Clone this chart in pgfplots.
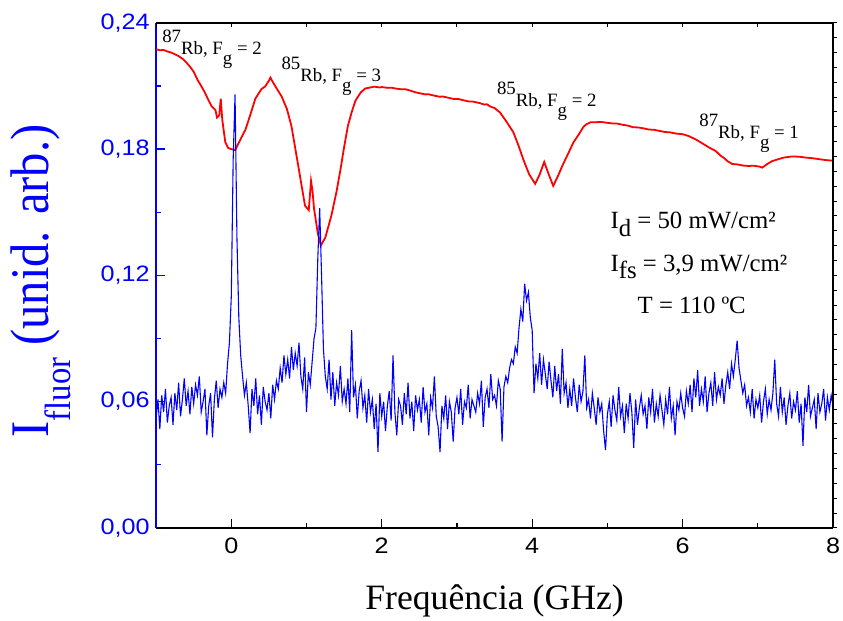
\documentclass[border=0pt]{standalone}
\usepackage{pgfplots}
\pgfplotsset{compat=1.18}
\usepackage{pgfplotstable}
\usepackage{graphicx}
\usepackage{fontspec}
\setmainfont{Liberation Serif}
\newfontfamily\arial{Liberation Sans}
\usetikzlibrary{calc}

\pgfplotstableread[row sep=\\]{
y\\
0.052\\ 0.061\\ 0.047\\ 0.063\\ 0.055\\ 0.066\\ 0.050\\ 0.058\\ 0.062\\ 0.049\\
0.064\\ 0.056\\ 0.069\\ 0.053\\ 0.061\\ 0.071\\ 0.058\\ 0.065\\ 0.054\\ 0.067\\
0.059\\ 0.068\\ 0.063\\ 0.072\\ 0.055\\ 0.060\\ 0.066\\ 0.044\\ 0.058\\ 0.064\\
0.043\\ 0.061\\ 0.070\\ 0.057\\ 0.066\\ 0.062\\ 0.069\\ 0.064\\ 0.078\\ 0.088\\
0.110\\ 0.175\\ 0.206\\ 0.138\\ 0.100\\ 0.082\\ 0.072\\ 0.063\\ 0.069\\ 0.058\\
0.045\\ 0.066\\ 0.058\\ 0.071\\ 0.054\\ 0.063\\ 0.049\\ 0.067\\ 0.060\\ 0.056\\
0.064\\ 0.052\\ 0.068\\ 0.061\\ 0.070\\ 0.066\\ 0.076\\ 0.069\\ 0.082\\ 0.073\\
0.080\\ 0.071\\ 0.086\\ 0.075\\ 0.083\\ 0.077\\ 0.088\\ 0.072\\ 0.066\\ 0.081\\
0.055\\ 0.074\\ 0.068\\ 0.079\\ 0.090\\ 0.095\\ 0.128\\ 0.152\\ 0.120\\ 0.085\\
0.072\\ 0.066\\ 0.080\\ 0.061\\ 0.074\\ 0.058\\ 0.069\\ 0.063\\ 0.077\\ 0.060\\
0.066\\ 0.059\\ 0.071\\ 0.055\\ 0.094\\ 0.062\\ 0.068\\ 0.052\\ 0.065\\ 0.070\\
0.057\\ 0.063\\ 0.050\\ 0.066\\ 0.055\\ 0.061\\ 0.047\\ 0.059\\ 0.036\\ 0.064\\
0.053\\ 0.060\\ 0.046\\ 0.058\\ 0.065\\ 0.051\\ 0.082\\ 0.055\\ 0.044\\ 0.061\\
0.058\\ 0.049\\ 0.064\\ 0.054\\ 0.069\\ 0.052\\ 0.060\\ 0.046\\ 0.063\\ 0.056\\
0.061\\ 0.050\\ 0.067\\ 0.055\\ 0.059\\ 0.044\\ 0.062\\ 0.057\\ 0.072\\ 0.053\\
0.048\\ 0.036\\ 0.058\\ 0.052\\ 0.063\\ 0.047\\ 0.060\\ 0.055\\ 0.041\\ 0.057\\
0.062\\ 0.054\\ 0.066\\ 0.049\\ 0.060\\ 0.057\\ 0.068\\ 0.052\\ 0.061\\ 0.058\\
0.055\\ 0.064\\ 0.059\\ 0.070\\ 0.048\\ 0.062\\ 0.066\\ 0.057\\ 0.073\\ 0.061\\
0.063\\ 0.058\\ 0.070\\ 0.066\\ 0.041\\ 0.067\\ 0.072\\ 0.069\\ 0.076\\ 0.080\\
0.078\\ 0.086\\ 0.083\\ 0.095\\ 0.104\\ 0.098\\ 0.116\\ 0.108\\ 0.112\\ 0.100\\
0.094\\ 0.064\\ 0.078\\ 0.071\\ 0.083\\ 0.068\\ 0.080\\ 0.073\\ 0.066\\ 0.079\\
0.070\\ 0.062\\ 0.077\\ 0.065\\ 0.073\\ 0.059\\ 0.085\\ 0.064\\ 0.069\\ 0.057\\
0.066\\ 0.058\\ 0.071\\ 0.062\\ 0.055\\ 0.068\\ 0.060\\ 0.065\\ 0.082\\ 0.057\\
0.061\\ 0.052\\ 0.064\\ 0.057\\ 0.049\\ 0.062\\ 0.055\\ 0.059\\ 0.046\\ 0.037\\
0.054\\ 0.060\\ 0.048\\ 0.063\\ 0.056\\ 0.051\\ 0.067\\ 0.053\\ 0.058\\ 0.045\\
0.059\\ 0.052\\ 0.064\\ 0.055\\ 0.038\\ 0.061\\ 0.049\\ 0.057\\ 0.063\\ 0.054\\
0.058\\ 0.047\\ 0.062\\ 0.055\\ 0.066\\ 0.050\\ 0.059\\ 0.053\\ 0.063\\ 0.056\\
0.049\\ 0.061\\ 0.054\\ 0.067\\ 0.052\\ 0.058\\ 0.044\\ 0.060\\ 0.056\\ 0.064\\
0.057\\ 0.053\\ 0.065\\ 0.059\\ 0.068\\ 0.055\\ 0.071\\ 0.062\\ 0.075\\ 0.058\\
0.066\\ 0.060\\ 0.072\\ 0.055\\ 0.064\\ 0.069\\ 0.058\\ 0.074\\ 0.061\\ 0.067\\
0.063\\ 0.071\\ 0.059\\ 0.068\\ 0.074\\ 0.066\\ 0.078\\ 0.072\\ 0.080\\ 0.089\\
0.076\\ 0.070\\ 0.064\\ 0.068\\ 0.058\\ 0.062\\ 0.055\\ 0.066\\ 0.052\\ 0.061\\
0.057\\ 0.063\\ 0.050\\ 0.060\\ 0.066\\ 0.054\\ 0.061\\ 0.056\\ 0.064\\ 0.080\\
0.059\\ 0.053\\ 0.067\\ 0.055\\ 0.062\\ 0.049\\ 0.058\\ 0.064\\ 0.052\\ 0.060\\
0.056\\ 0.065\\ 0.050\\ 0.059\\ 0.039\\ 0.062\\ 0.055\\ 0.068\\ 0.053\\ 0.057\\
0.061\\ 0.047\\ 0.064\\ 0.055\\ 0.059\\ 0.066\\ 0.051\\ 0.062\\ 0.056\\ 0.063\\ 0.058\\
}\bluedata

\begin{document}
\begin{tikzpicture}
\begin{axis}[
  scale only axis, width=681bp, height=508bp,
  xmin=-1, xmax=8, ymin=0, ymax=0.24,
  axis x line*=bottom, axis y line*=left,
  axis line style={line width=1.6bp},
  x axis line style={black}, y axis line style={blue},
  tick align=inside,
  major tick length=9bp, minor tick length=5bp,
  every tick/.style={line width=1.3bp},
  xtick style={black}, ytick style={blue},
  xtick={0,2,4,6,8}, minor xtick={-1,1,3,5,7},
  ytick={0,0.06,0.12,0.18,0.24}, minor ytick={0.03,0.09,0.15,0.21},
  scaled y ticks=false,
  /pgf/number format/assume math mode=true,
  tick label style={font=\arial\fontsize{22.5}{26}\selectfont},
  xticklabel={\scalebox{1.13}[1]{\pgfmathprintnumber{\tick}}},
  yticklabel={\scalebox{1.13}[1]{\pgfmathprintnumber[fixed, fixed zerofill, precision=2, use comma]{\tick}}},
  yticklabel style={blue, xshift=-3bp},
  xticklabel style={yshift=-7bp},
  xlabel={Frequência (GHz)},
  xlabel style={font=\fontsize{36}{40}\selectfont, at={(axis description cs:0.5,-0.1614)}, anchor=base},
  ylabel={\scalebox{1}[1.12]{I\raisebox{-0.4em}{\fontsize{33}{38}\selectfont fluor} (unid. arb.)}},
  ylabel style={blue, font=\fontsize{49}{56}\selectfont, at={(axis description cs:-0.1586,0.489)}, anchor=base},
  clip=true,
]
\addplot[red, line width=1.8bp] coordinates {
(-1.00,0.2275) (-0.95,0.2270) (-0.90,0.2271) (-0.85,0.2264) (-0.80,0.2259)
(-0.75,0.2251) (-0.70,0.2242) (-0.65,0.2230) (-0.60,0.2213) (-0.55,0.2192)
(-0.50,0.2168) (-0.45,0.2130) (-0.40,0.2100) (-0.35,0.2068) (-0.30,0.2030)
(-0.26,0.2003) (-0.21,0.1985) (-0.19,0.1950) (-0.16,0.1960) (-0.14,0.2040)
(-0.12,0.1940) (-0.08,0.1833) (-0.04,0.1805) (0.00,0.1800) (0.05,0.1795)
(0.10,0.1830) (0.19,0.1894) (0.25,0.1960) (0.32,0.2040) (0.40,0.2085)
(0.45,0.2098) (0.50,0.2125) (0.52,0.2140) (0.55,0.2120) (0.60,0.2090)
(0.67,0.2050) (0.74,0.1990) (0.80,0.1909) (0.90,0.1700) (0.98,0.1531)
(1.03,0.1510) (1.06,0.1649) (1.08,0.1600) (1.10,0.1517) (1.15,0.1400)
(1.19,0.1342) (1.25,0.1380) (1.33,0.1483) (1.40,0.1600) (1.45,0.1700)
(1.50,0.1810) (1.55,0.1910) (1.60,0.1975) (1.65,0.2030) (1.72,0.2069)
(1.78,0.2088) (1.85,0.2093) (1.90,0.2097) (1.97,0.2093) (2.00,0.2095)
(2.08,0.2091) (2.13,0.2092) (2.20,0.2087) (2.27,0.2084) (2.31,0.2085)
(2.38,0.2078) (2.45,0.2070) (2.50,0.2066) (2.58,0.2060) (2.62,0.2061)
(2.70,0.2054) (2.77,0.2049) (2.81,0.2050) (2.90,0.2043) (2.96,0.2038)
(3.02,0.2038) (3.10,0.2031) (3.16,0.2026) (3.21,0.2026) (3.30,0.2019)
(3.36,0.2012) (3.40,0.2013) (3.44,0.2003) (3.50,0.1995)
(3.57,0.1975) (3.65,0.1935) (3.75,0.1880) (3.82,0.1815) (3.88,0.1753)
(3.96,0.1680) (4.04,0.1635) (4.10,0.1680) (4.16,0.1739) (4.22,0.1680)
(4.28,0.1625) (4.34,0.1670) (4.40,0.1720) (4.48,0.1780) (4.55,0.1833)
(4.62,0.1870) (4.68,0.1905) (4.72,0.1918) (4.78,0.1928) (4.85,0.1928)
(4.92,0.1929) (5.00,0.1925) (5.07,0.1922) (5.12,0.1922) (5.20,0.1916)
(5.28,0.1911) (5.34,0.1904) (5.41,0.1903) (5.49,0.1898) (5.55,0.1893)
(5.62,0.1892) (5.70,0.1886) (5.77,0.1881) (5.83,0.1880) (5.91,0.1874)
(6.00,0.1871) (6.08,0.1862) (6.17,0.1847) (6.25,0.1830) (6.35,0.1808)
(6.44,0.1791) (6.50,0.1770) (6.55,0.1758) (6.60,0.1742) (6.66,0.1729)
(6.72,0.1728) (6.80,0.1722) (6.87,0.1720) (6.95,0.1721) (7.02,0.1717)
(7.06,0.1712) (7.12,0.1728) (7.19,0.1743) (7.27,0.1752) (7.35,0.1760)
(7.45,0.1765) (7.55,0.1764) (7.63,0.1760) (7.72,0.1757) (7.80,0.1753)
(7.90,0.1748) (8.00,0.1745)
};
\addplot[blue, line width=1.1bp] table[x expr=\coordindex*0.025-1, y=y] {\bluedata};

\begin{scope}[every node/.style={anchor=base west, inner sep=0pt, font=\fontsize{19}{22}\selectfont}]
\node at (axis cs:-0.92,0.2249) {\raisebox{0.62em}{87}Rb, F\raisebox{-0.55em}{g} = 2};
\node at (axis cs:0.665,0.2123) {\raisebox{0.62em}{85}Rb, F\raisebox{-0.55em}{g} = 3};
\node at (axis cs:3.53,0.2003) {\raisebox{0.62em}{85}Rb, F\raisebox{-0.55em}{g} = 2};
\node at (axis cs:6.22,0.1852) {\raisebox{0.62em}{87}Rb, F\raisebox{-0.55em}{g} = 1};
\end{scope}
\begin{scope}[every node/.style={anchor=base west, inner sep=0pt, font=\fontsize{25}{28}\selectfont}]
\node at (axis cs:5.04,0.1422) {I\raisebox{-0.3em}{d} = 50 mW/cm²};
\node at (axis cs:5.04,0.1219) {I\raisebox{-0.3em}{fs} = 3,9 mW/cm²};
\node at (axis cs:5.40,0.1020) {T = 110 ºC};
\end{scope}
\end{axis}

\begin{axis}[
  scale only axis, width=681bp, height=508bp,
  xmin=-1, xmax=8, ymin=0, ymax=34,
  axis x line*=top, axis y line*=right,
  axis line style={line width=1.6bp, black},
  xtick={-1,0,...,8}, xticklabels={},
  ytick={0,1,...,34}, yticklabels={},
  xtick align=inside, ytick align=outside,
  major tick length=4bp,
  every tick/.style={line width=1bp, black},
]
\end{axis}
\pgfresetboundingbox
\path[use as bounding box] ($(current axis.south west)+(-157bp,-93bp)$) rectangle ($(current axis.north east)+(10bp,23bp)$);
\end{tikzpicture}
\end{document}
